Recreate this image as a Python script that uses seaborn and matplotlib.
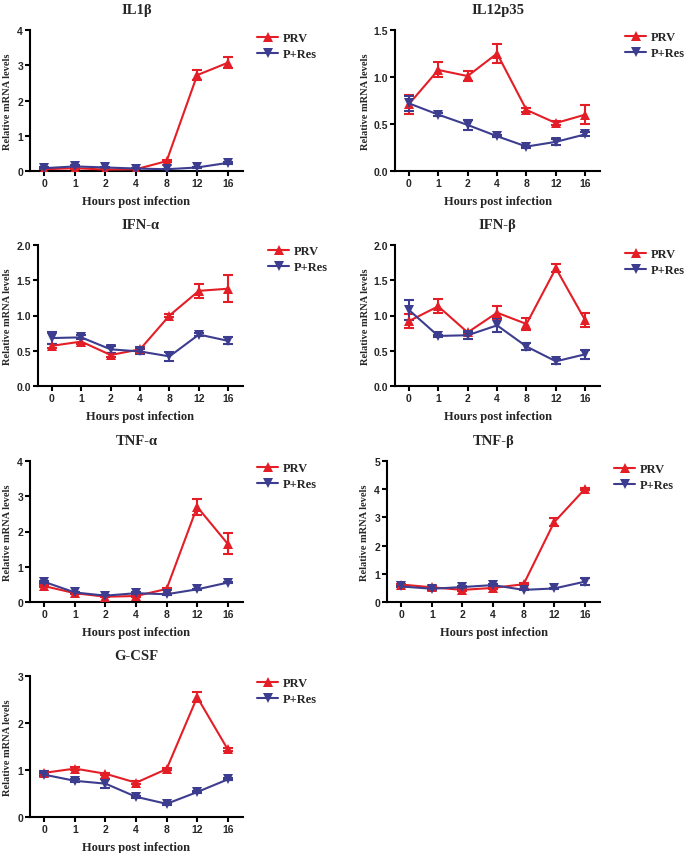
import matplotlib
matplotlib.use('Agg')
import matplotlib.pyplot as plt
import numpy as np
import pandas as pd
import seaborn as sns

sns.set_style('ticks')

hours = ['0', '1', '2', '4', '8', '12', '16']
series = ['PRV', 'P+Res']
colors = {'PRV': '#e41e26', 'P+Res': '#3d3d8f'}
markers = {'PRV': '^', 'P+Res': 'v'}

genes = ['IL1\u03b2', 'IL12p35', 'IFN-\u03b1', 'IFN-\u03b2', 'TNF-\u03b1', 'TNF-\u03b2', 'G-CSF']

prv_mean = {
    'IL1\u03b2': [0.05, 0.08, 0.04, 0.05, 0.28, 2.72, 3.07],
    'IL12p35': [0.71, 1.075, 1.01, 1.25, 0.65, 0.51, 0.60],
    'IFN-\u03b1': [0.57, 0.63, 0.44, 0.52, 1.00, 1.35, 1.38],
    'IFN-\u03b2': [0.92, 1.13, 0.76, 1.04, 0.88, 1.67, 0.93],
    'TNF-\u03b1': [0.45, 0.25, 0.15, 0.17, 0.37, 2.70, 1.65],
    'TNF-\u03b2': [0.62, 0.52, 0.43, 0.50, 0.63, 2.83, 4.00],
    'G-CSF': [0.94, 1.03, 0.92, 0.73, 1.02, 2.55, 1.44],
}
prv_err = {
    'IL1\u03b2': [0.02, 0.02, 0.01, 0.01, 0.02, 0.14, 0.15],
    'IL12p35': [0.10, 0.08, 0.05, 0.10, 0.02, 0.02, 0.10],
    'IFN-\u03b1': [0.03, 0.03, 0.03, 0.04, 0.02, 0.10, 0.19],
    'IFN-\u03b2': [0.10, 0.10, 0.02, 0.09, 0.08, 0.06, 0.10],
    'TNF-\u03b1': [0.03, 0.02, 0.02, 0.03, 0.02, 0.22, 0.30],
    'TNF-\u03b2': [0.03, 0.03, 0.05, 0.04, 0.03, 0.15, 0.04],
    'G-CSF': [0.03, 0.03, 0.02, 0.03, 0.02, 0.10, 0.03],
}
res_mean = {
    'IL1\u03b2': [0.08, 0.13, 0.10, 0.07, 0.05, 0.10, 0.23],
    'IL12p35': [0.72, 0.60, 0.49, 0.37, 0.26, 0.31, 0.39],
    'IFN-\u03b1': [0.68, 0.69, 0.52, 0.49, 0.42, 0.73, 0.64],
    'IFN-\u03b2': [1.08, 0.71, 0.72, 0.86, 0.56, 0.35, 0.45],
    'TNF-\u03b1': [0.57, 0.27, 0.18, 0.25, 0.22, 0.36, 0.55],
    'TNF-\u03b2': [0.55, 0.47, 0.53, 0.60, 0.43, 0.48, 0.72],
    'G-CSF': [0.90, 0.77, 0.71, 0.43, 0.28, 0.53, 0.80],
}
res_err = {
    'IL1\u03b2': [0.02, 0.03, 0.02, 0.01, 0.01, 0.02, 0.03],
    'IL12p35': [0.08, 0.02, 0.05, 0.01, 0.01, 0.03, 0.02],
    'IFN-\u03b1': [0.09, 0.03, 0.05, 0.03, 0.06, 0.02, 0.05],
    'IFN-\u03b2': [0.14, 0.02, 0.05, 0.10, 0.05, 0.04, 0.06],
    'TNF-\u03b1': [0.03, 0.02, 0.02, 0.03, 0.02, 0.02, 0.02],
    'TNF-\u03b2': [0.03, 0.03, 0.03, 0.04, 0.02, 0.02, 0.12],
    'G-CSF': [0.03, 0.03, 0.10, 0.02, 0.02, 0.02, 0.02],
}
ymax = {'IL1\u03b2': 4, 'IL12p35': 1.5, 'IFN-\u03b1': 2.0, 'IFN-\u03b2': 2.0,
        'TNF-\u03b1': 4, 'TNF-\u03b2': 5, 'G-CSF': 3}
ystep = {'IL1\u03b2': 1, 'IL12p35': 0.5, 'IFN-\u03b1': 0.5, 'IFN-\u03b2': 0.5,
         'TNF-\u03b1': 1, 'TNF-\u03b2': 1, 'G-CSF': 1}

W, H = 685, 854
fig = plt.figure(figsize=(W / 100, H / 100), dpi=100)

# pixel boxes: left, right, top, bottom ; legend x, legend first row y ; ylabel centre x
boxes = [
    (30, 243, 31, 172, 257, 41, 8),
    (395, 600, 31, 172, 625, 40, 365),
    (38, 243, 246, 387, 268, 254, 8),
    (395, 600, 246, 387, 625, 257, 365),
    (30, 243, 462, 603, 257, 471, 8),
    (387, 600, 462, 603, 614, 472, 365),
    (30, 243, 677, 818, 257, 686, 8),
]

serif = 'Liberation Serif'
sans = 'Liberation Sans'

for gene, (l, r, t, b, lx, ly, yx) in zip(genes, boxes):
    ax = fig.add_axes([l / W, 1 - b / H, (r - l) / W, (b - t) / H])
    pos = np.arange(len(hours))
    df = pd.concat([
        pd.DataFrame({'pos': pos, 'val': prv_mean[gene], 'err': prv_err[gene], 'grp': 'PRV'}),
        pd.DataFrame({'pos': pos, 'val': res_mean[gene], 'err': res_err[gene], 'grp': 'P+Res'}),
    ])
    for g in series:
        d = df[df.grp == g]
        ax.errorbar(d.pos, d.val, yerr=d.err, fmt='none', ecolor=colors[g],
                    elinewidth=1.5, capsize=3.5, capthick=1.5, zorder=2)
    sns.lineplot(data=df, x='pos', y='val', hue='grp', style='grp',
                 palette=colors, markers=markers, dashes=False,
                 hue_order=series, style_order=series,
                 markersize=6.5, markeredgewidth=0, linewidth=1.5, ax=ax, zorder=3)
    ax.set_xlim(-0.47, 6.5)
    ax.set_ylim(0, ymax[gene])
    ax.set_xticks(pos)
    ax.set_xticklabels(hours)
    yt = np.arange(0, ymax[gene] + 1e-9, ystep[gene])
    ax.set_yticks(yt)
    if ystep[gene] < 1:
        ax.set_yticklabels(['%.1f' % v for v in yt])
    else:
        ax.set_yticklabels(['%d' % v for v in yt])
    for lab in ax.get_xticklabels() + ax.get_yticklabels():
        lab.set_fontfamily(sans)
        lab.set_fontweight('bold')
        lab.set_fontsize(7.5)
    sns.despine(ax=ax)
    for s in ['left', 'bottom']:
        ax.spines[s].set_linewidth(1.5)
        ax.spines[s].set_color('black')
    ax.tick_params(direction='out', length=3.5, width=1.5, color='black', pad=1.5)
    ax.set_title(gene, fontfamily=serif, fontweight='bold', fontsize=10.5, pad=12)
    ax.set_xlabel('Hours post infection', fontfamily=serif, fontweight='bold', fontsize=9, labelpad=5)
    ax.set_ylabel('Relative mRNA levels', fontfamily=serif, fontweight='bold', fontsize=7.5)
    ax.yaxis.label.set_va('center')
    ax.yaxis.set_label_coords((yx - l) / (r - l), 0.5)
    handles, labels = ax.get_legend_handles_labels()
    ax.legend(handles, labels, loc='upper left', frameon=False,
              bbox_to_anchor=(lx / W, 1 - (ly - 8) / H), bbox_transform=fig.transFigure,
              borderpad=0, borderaxespad=0, handlelength=1.7, handletextpad=0.35,
              labelspacing=0.35, prop={'family': serif, 'weight': 'bold', 'size': 9})

fig.savefig('out.png', dpi=100)
